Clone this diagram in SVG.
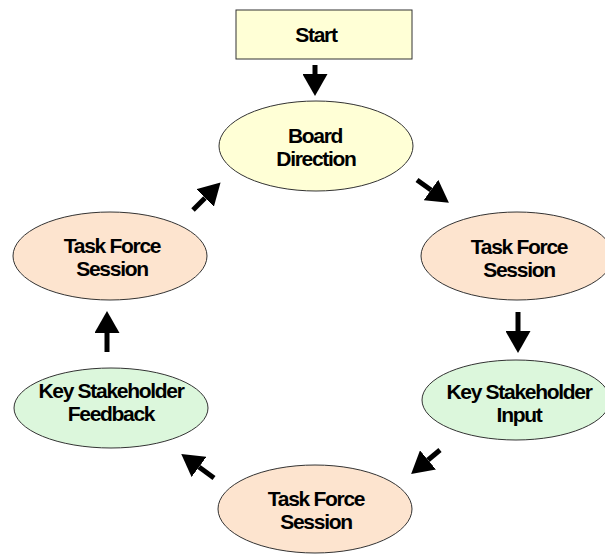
<svg xmlns="http://www.w3.org/2000/svg" width="605" height="554" viewBox="0 0 605 554">
<defs>
<marker id="ah" markerUnits="userSpaceOnUse" markerWidth="22" markerHeight="25" refX="0" refY="12.5" orient="auto">
<path d="M0,0 L22,12.5 L0,25 Z" fill="#000"/>
</marker>
<style>
.n{stroke:#333;stroke-width:1}
.y{fill:#ffffd6}
.p{fill:#fde4cf}
.g{fill:#dcf7dc}
.t{font-family:"Liberation Sans",Arial,sans-serif;font-weight:bold;font-size:21px;letter-spacing:-1.3px;text-anchor:middle;fill:#000}
.c line{stroke:#000;stroke-width:5;marker-end:url(#ah)}
</style>
</defs>
<rect width="605" height="554" fill="#fff"/>
<g id="start"><rect class="n y" x="236" y="10" width="176" height="49"/><text class="t" x="316" y="42">Start</text></g>
<g id="board"><ellipse class="n y" cx="316" cy="146" rx="97" ry="45"/><text class="t" x="315" y="143">Board</text><text class="t" x="316" y="166">Direction</text></g>
<g id="tfs-right"><ellipse class="n p" cx="517" cy="256" rx="96" ry="44"/><text class="t" x="519" y="254">Task Force</text><text class="t" x="519" y="277">Session</text></g>
<g id="ksi"><ellipse class="n g" cx="516" cy="400" rx="94" ry="40"/><text class="t" x="519" y="399">Key Stakeholder</text><text class="t" x="519" y="422">Input</text></g>
<g id="tfs-bottom"><ellipse class="n p" cx="315" cy="509" rx="97" ry="44"/><text class="t" x="316" y="506">Task Force</text><text class="t" x="316" y="529">Session</text></g>
<g id="ksf"><ellipse class="n g" cx="111" cy="408" rx="97" ry="40"/><text class="t" x="111" y="398">Key Stakeholder</text><text class="t" x="111" y="421">Feedback</text></g>
<g id="tfs-left"><ellipse class="n p" cx="110" cy="256" rx="97" ry="44"/><text class="t" x="112" y="253">Task Force</text><text class="t" x="112" y="276">Session</text></g>
<g id="connectors" class="c">
<line x1="315" y1="65" x2="315" y2="74"/>
<line x1="417" y1="180" x2="431" y2="190"/>
<line x1="518" y1="312" x2="518" y2="331"/>
<line x1="440" y1="450" x2="428" y2="460"/>
<line x1="214" y1="478" x2="199" y2="467"/>
<line x1="107" y1="352" x2="107" y2="333"/>
<line x1="193" y1="210" x2="205" y2="198"/>
</g>
</svg>
